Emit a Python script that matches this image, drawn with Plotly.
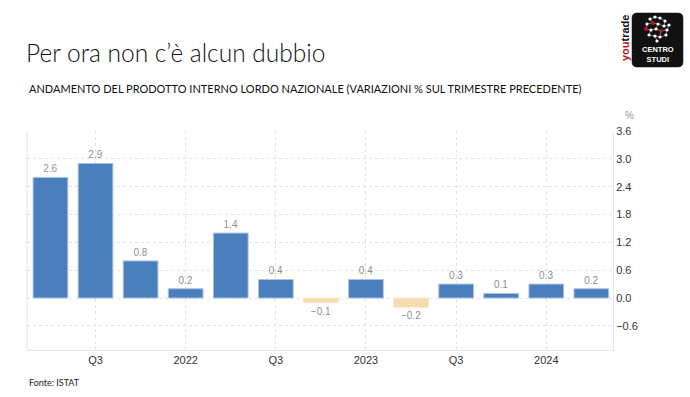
import plotly.graph_objects as go

quarters = ["Q2 2021", "Q3 2021", "Q4 2021", "Q1 2022", "Q2 2022", "Q3 2022", "Q4 2022",
            "Q1 2023", "Q2 2023", "Q3 2023", "Q4 2023", "Q1 2024", "Q2 2024"]
gdp_qoq = [2.6, 2.9, 0.8, 0.2, 1.4, 0.4, -0.1, 0.4, -0.2, 0.3, 0.1, 0.3, 0.2]
tick_quarters = ["Q3 2021", "Q1 2022", "Q3 2022", "Q1 2023", "Q3 2023", "Q1 2024"]
tick_labels = ["Q3", "2022", "Q3", "2023", "Q3", "2024"]
y_ticks = [-0.6, 0.0, 0.6, 1.2, 1.8, 2.4, 3.0, 3.6]

POS = "#4a7ebd"
NEG = "#f5dcae"
colors = [POS if v >= 0 else NEG for v in gdp_qoq]
lines = ["#a9c3e3" if v >= 0 else "#f8e8c8" for v in gdp_qoq]
labels = [f"{v:.1f}".replace("-", "\u2212") for v in gdp_qoq]

W, H = 690, 397
L, R, T, B = 27, 613, 131, 350


def px(x):
    return (x - L) / (R - L)


def py(y):
    return (B - y) / (B - T)


fig = go.Figure()
fig.add_trace(go.Bar(
    x=quarters, y=gdp_qoq,
    marker=dict(color=colors, line=dict(color=lines, width=1)),
    text=labels, textposition="outside",
    textfont=dict(family="Liberation Sans", size=10, color="#8f8f8f"),
    cliponaxis=False, hoverinfo="x+y",
))

grid = "#e3e3e3"
fig.update_layout(
    width=W, height=H,
    margin=dict(l=L, r=W - R, t=T, b=H - B, pad=0),
    paper_bgcolor="white", plot_bgcolor="white",
    bargap=0.23, showlegend=False,
    font=dict(family="Liberation Sans", color="#333333"),
    xaxis=dict(
        type="category", range=[-0.52, 12.48],
        tickmode="array", tickvals=tick_quarters, ticktext=tick_labels,
        showgrid=True, gridcolor=grid, griddash="dot", gridwidth=1,
        showline=True, linecolor="#e6e6e6", linewidth=1,
        ticks="", tickfont=dict(size=11, color="#333333"),
        zeroline=False, fixedrange=True,
    ),
    yaxis=dict(
        side="right", range=[-1.12, 3.6],
        tickmode="array", tickvals=y_ticks, tickformat=".1f",
        showgrid=True, gridcolor=grid, griddash="dot", gridwidth=1,
        showline=True, linecolor="#e6e6e6", linewidth=1,
        ticks="", tickfont=dict(size=11, color="#333333"),
        zeroline=False, fixedrange=True,
    ),
)

shapes = [
    dict(type="line", xref="paper", yref="paper", x0=0, x1=0, y0=0, y1=1,
         line=dict(color="#e6e6e6", width=1)),
]

# logo box
bx0, bx1, by0, by1 = 632, 683, 13, 67
r = 5
path = (f"M {px(bx0 + r)},{py(by0)} L {px(bx1 - r)},{py(by0)} "
        f"Q {px(bx1)},{py(by0)} {px(bx1)},{py(by0 + r)} L {px(bx1)},{py(by1 - r)} "
        f"Q {px(bx1)},{py(by1)} {px(bx1 - r)},{py(by1)} L {px(bx0 + r)},{py(by1)} "
        f"Q {px(bx0)},{py(by1)} {px(bx0)},{py(by1 - r)} L {px(bx0)},{py(by0 + r)} "
        f"Q {px(bx0)},{py(by0)} {px(bx0 + r)},{py(by0)} Z")
shapes.append(dict(type="path", xref="paper", yref="paper", path=path,
                   fillcolor="#111111", line=dict(color="#111111", width=0.5)))

# network icon
nodes = [(650, 19, "w"), (655, 17, "w"), (660, 18, "w"), (665, 21, "w"),
         (647, 24, "w"), (653, 23, "r"), (658, 24, "w"), (664, 26, "w"),
         (669, 25, "w"), (646, 29, "r"), (651, 30, "w"), (656, 29, "w"),
         (661, 31, "r"), (667, 30, "w"), (649, 35, "w"), (655, 36, "w"),
         (660, 37, "w"), (666, 35, "w"), (657, 41, "w")]
edges = [(0, 1), (1, 2), (2, 3), (0, 5), (5, 6), (6, 7), (7, 8), (4, 5), (4, 9), (9, 10),
         (10, 11), (11, 12), (12, 13), (13, 8), (10, 14), (14, 15), (15, 16), (16, 17),
         (17, 13), (12, 16), (15, 18), (6, 11), (3, 7)]
for a, b in edges:
    shapes.append(dict(type="line", xref="paper", yref="paper",
                       x0=px(nodes[a][0]), y0=py(nodes[a][1]),
                       x1=px(nodes[b][0]), y1=py(nodes[b][1]),
                       line=dict(color="#bbbbbb", width=0.6)))
for x, y, c in nodes:
    rr = 1.6 if c == "w" else 2.0
    col = "#ffffff" if c == "w" else "#c0141c"
    shapes.append(dict(type="circle", xref="paper", yref="paper",
                       x0=px(x - rr), x1=px(x + rr), y0=py(y - rr), y1=py(y + rr),
                       fillcolor=col, line=dict(width=0)))
fig.update_layout(shapes=shapes)

ann = [
    dict(text="Per ora non c\u2019\u00e8 alcun dubbio", x=px(24), y=py(53),
         xanchor="left", yanchor="middle",
         font=dict(family="Lato", size=24.5, color="#111111", weight=300)),
    dict(text="ANDAMENTO DEL PRODOTTO INTERNO LORDO NAZIONALE (VARIAZIONI % SUL TRIMESTRE PRECEDENTE)",
         x=px(27), y=py(89), xanchor="left", yanchor="middle",
         font=dict(family="Lato", size=11, color="#111111")),
    dict(text="Fonte: ISTAT", x=px(27), y=py(382), xanchor="left", yanchor="middle",
         font=dict(family="Lato", size=9, color="#222222")),
    dict(text="%", x=px(629), y=py(116), xanchor="center", yanchor="middle",
         font=dict(family="Liberation Sans", size=10, color="#999999")),
    dict(text="<span style='color:#c0141c'>you</span>trade", x=px(625), y=py(38),
         xanchor="center", yanchor="middle", textangle=-90,
         font=dict(family="Liberation Sans", size=11, color="#111111", weight="bold")),
    dict(text="CENTRO<br>STUDI", x=px(657.5), y=py(54), xanchor="center", yanchor="middle",
         font=dict(family="Liberation Sans", size=7.5, color="#ffffff", weight="bold")),
]
for a in ann:
    a.update(xref="paper", yref="paper", showarrow=False)
fig.update_layout(annotations=ann)

fig.write_html("out.html", config={"displayModeBar": False},
               post_script="document.body.style.margin='0';document.body.style.overflow='hidden';")
